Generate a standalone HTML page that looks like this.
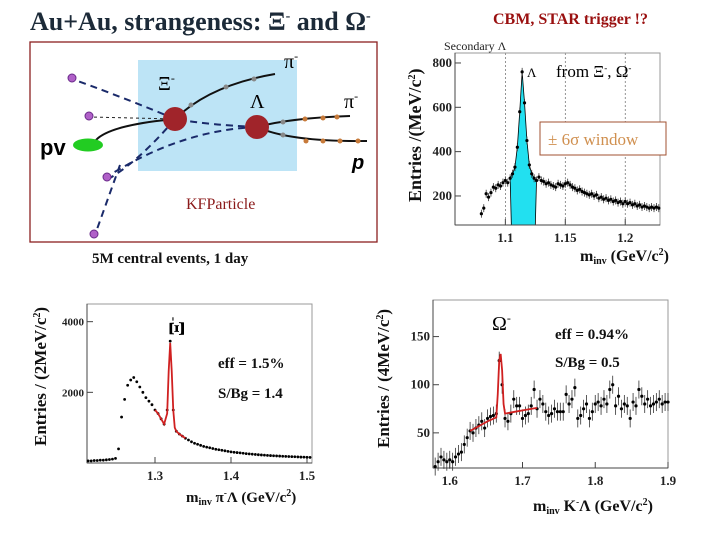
<!DOCTYPE html>
<html><head><meta charset="utf-8">
<style>
body{margin:0;width:720px;height:540px;background:#fff;overflow:hidden;font-family:"Liberation Serif",serif;}
svg{position:absolute;left:0;top:0}
</style></head>
<body>
<svg width="720" height="540" viewBox="0 0 720 540" font-family="Liberation Serif, serif">
<text x="30" y="30" font-size="26" font-weight="bold" fill="#1c2a38">Au+Au, strangeness:  Ξ<tspan font-size="14" dy="-10">-</tspan><tspan dy="10"> and Ω</tspan><tspan font-size="14" dy="-10">-</tspan></text>
<text x="493" y="24" font-size="16" font-weight="bold" fill="#9a1010">CBM, STAR trigger !?</text>
<text x="92" y="263" font-size="15" font-weight="bold" fill="#111">5M central events, 1 day</text>

<g>
<rect x="30" y="42" width="347" height="200" fill="none" stroke="#8b2020" stroke-width="1.3"/>
<rect x="138" y="60" width="159" height="111" fill="#bde4f6"/>
<g stroke="#1a2a6a" stroke-width="2" stroke-dasharray="7,5" fill="none">
<path d="M175 119 Q130 100 75 80"/><path d="M175 119 Q140 160 110 178"/><path d="M257 127 Q180 130 105 178"/><path d="M257 127 Q210 125 175 119"/><path d="M120 165 L96 232"/>
</g>
<path d="M175 119 L90 117" stroke="#222" stroke-dasharray="3,3" fill="none"/>
<g stroke="#111" stroke-width="2" fill="none">
<path d="M96 140 Q110 125 175 119"/><path d="M175 119 Q210 85 275 74"/><path d="M257 127 Q290 118 350 116"/><path d="M257 127 Q290 142 367 141"/>
</g>
<g fill="#888"><circle cx="191" cy="105" r="2.5"/><circle cx="226" cy="87" r="2.5"/><circle cx="254" cy="79" r="2.5"/><circle cx="283" cy="122" r="2.5"/><circle cx="283" cy="135" r="2.5"/></g>
<g fill="#c77a3a"><circle cx="305" cy="119" r="2.5"/><circle cx="323" cy="118" r="2.5"/><circle cx="337" cy="117" r="2.5"/><circle cx="306" cy="141" r="2.5"/><circle cx="323" cy="141" r="2.5"/><circle cx="340" cy="141" r="2.5"/><circle cx="358" cy="141" r="2.5"/></g>
<g fill="#b060c8" stroke="#6a2a8a"><circle cx="72" cy="78" r="4"/><circle cx="89" cy="116" r="4"/><circle cx="107" cy="177" r="4"/><circle cx="94" cy="234" r="4"/></g>
<ellipse cx="88" cy="145" rx="15" ry="6.5" fill="#22cc22"/>
<circle cx="175" cy="119" r="12" fill="#a0242a"/>
<circle cx="257" cy="127" r="12" fill="#a0242a"/>
<text x="40" y="155" font-family="Liberation Sans, sans-serif" font-weight="bold" font-size="22" fill="#000">pv</text>
<text x="284" y="68" font-size="20" fill="#000">π<tspan font-size="12" dy="-8">-</tspan></text>
<text x="158" y="90" font-size="20" fill="#000">Ξ<tspan font-size="12" dy="-8">-</tspan></text>
<text x="250" y="108" font-size="20" fill="#000">Λ</text>
<text x="344" y="108" font-size="20" fill="#000">π<tspan font-size="12" dy="-8">-</tspan></text>
<text x="352" y="169" font-family="Liberation Sans, sans-serif" font-style="italic" font-weight="bold" font-size="20" fill="#000">p</text>
<text x="186" y="209" font-size="16" fill="#8b1a1a">KFParticle</text>
</g>
<g id="charts"></g>
</svg>
<script>
// ---- Lambda chart data ----
const lamX=[1.080,1.082,1.084,1.086,1.088,1.090,1.092,1.094,1.096,1.098,1.100,1.102,1.104,1.106,1.108,1.110,1.112,1.114,1.116,1.118,1.120,1.122,1.124,1.126,1.128,1.130,1.132,1.134,1.136,1.138,1.140,1.142,1.144,1.146,1.148,1.150,1.152,1.154,1.156,1.158,1.160,1.162,1.164,1.166,1.168,1.170,1.172,1.174,1.176,1.178,1.180,1.182,1.184,1.186,1.188,1.190,1.192,1.194,1.196,1.198,1.200,1.202,1.204,1.206,1.208,1.210,1.212,1.214,1.216,1.218,1.220,1.222,1.224,1.226,1.228];
const lamY=[120,145,210,195,215,240,235,250,245,260,270,260,280,300,330,420,580,760,620,450,340,300,280,270,285,270,265,255,260,250,245,240,255,250,245,255,260,250,240,235,225,230,220,215,210,205,210,200,205,190,195,185,190,180,185,175,180,170,175,165,175,165,170,160,165,155,160,150,155,150,145,150,145,150,145];
const lamXTicks=[1.1,1.15,1.2];
const lamYTicks=[200,400,600,800];
const lamWindow=[1.105,1.125];
// ---- Xi chart data ----
const xiX=[1.212,1.216,1.220,1.224,1.228,1.232,1.236,1.240,1.244,1.248,1.252,1.256,1.260,1.264,1.268,1.272,1.276,1.280,1.284,1.288,1.292,1.296,1.300,1.304,1.308,1.312,1.316,1.320,1.324,1.328,1.332,1.336,1.340,1.344,1.348,1.352,1.356,1.360,1.364,1.368,1.372,1.376,1.380,1.384,1.388,1.392,1.396,1.400,1.404,1.408,1.412,1.416,1.420,1.424,1.428,1.432,1.436,1.440,1.444,1.448,1.452,1.456,1.460,1.464,1.468,1.472,1.476,1.480,1.484,1.488,1.492,1.496,1.500,1.504];
const xiY=[60,60,70,70,80,80,90,100,110,130,400,1300,1800,2200,2350,2420,2300,2150,2000,1850,1750,1650,1500,1400,1250,1100,1500,3450,1500,900,820,760,700,650,600,560,530,500,470,450,430,410,390,375,360,345,330,315,305,295,285,275,265,258,250,242,235,228,222,215,210,205,200,196,192,188,184,180,176,172,168,165,162,160];
const xiFitX=[1.300,1.304,1.308,1.312,1.316,1.318,1.320,1.322,1.324,1.326,1.328,1.332,1.336,1.340];
const xiFitY=[1500,1400,1250,1100,1400,2600,3400,2600,1500,1000,900,820,760,700];
const xiXTicks=[1.3,1.4,1.5];
const xiYTicks=[2000,4000];
// ---- Omega chart data ----
const omX=[1.580,1.584,1.588,1.592,1.596,1.600,1.604,1.608,1.612,1.616,1.620,1.624,1.628,1.632,1.636,1.640,1.644,1.648,1.652,1.656,1.660,1.664,1.668,1.672,1.676,1.680,1.684,1.688,1.692,1.696,1.700,1.704,1.708,1.712,1.716,1.720,1.724,1.728,1.732,1.736,1.740,1.744,1.748,1.752,1.756,1.760,1.764,1.768,1.772,1.776,1.780,1.784,1.788,1.792,1.796,1.800,1.804,1.808,1.812,1.816,1.820,1.824,1.828,1.832,1.836,1.840,1.844,1.848,1.852,1.856,1.860,1.864,1.868,1.872,1.876,1.880,1.884,1.888,1.892,1.896,1.900];
const omY=[15,20,25,22,20,22,20,25,28,30,38,45,52,50,55,58,62,55,65,67,68,70,125,100,65,62,70,85,78,78,65,68,70,78,95,75,85,80,72,68,70,75,72,72,72,90,80,85,97,65,68,75,80,65,72,80,82,78,85,80,95,100,78,88,75,80,78,65,82,78,95,88,80,85,78,80,82,85,80,82,82];
const omFitX=[1.628,1.640,1.652,1.664,1.666,1.668,1.670,1.672,1.674,1.676,1.690,1.705,1.720];
const omFitY=[52,57,62,66,90,125,132,115,80,70,72,74,76];
const omXTicks=[1.6,1.7,1.8,1.9];
const omYTicks=[50,100,150];

const NS='http://www.w3.org/2000/svg';
const root=document.getElementById('charts');
function mk(tag,attrs,parent){const e=document.createElementNS(NS,tag);for(const k in attrs)e.setAttribute(k,attrs[k]);(parent||root).appendChild(e);return e;}
function scale(d0,d1,r0,r1){return v=>r0+(v-d0)/(d1-d0)*(r1-r0);}

function chart(o){
  const g=mk('g',{});
  
  
  const sx=scale(o.xd[0],o.xd[1],o.L,o.R), sy=scale(o.yd[0],o.yd[1],o.B,o.T);
  if(o.win){const r=mk('path',{fill:'#22e0f0',stroke:'#000','stroke-width':0.8},g);
    let d='M'+sx(o.win[0])+' '+o.B;
    o.x.forEach((x,i)=>{if(x>=o.win[0]-0.001&&x<=o.win[1]+0.001)d+=' L'+sx(x)+' '+sy(o.y[i]);});
    d+=' L'+sx(o.win[1])+' '+o.B+'Z';r.setAttribute('d',d);
    
    }
  (o.grid||[]).forEach(t=>{mk('line',{x1:sx(t),x2:sx(t),y1:o.T,y2:o.B,stroke:'#666','stroke-dasharray':'2,2','stroke-width':0.7},g);});
  const fr=mk('rect',{x:o.L,y:o.T,width:o.R-o.L,height:o.B-o.T,fill:'none',stroke:'#999','stroke-width':1},g);
  
  
  mk('line',{x1:o.L,x2:o.L,y1:o.T,y2:o.B,stroke:'#444'},g);
  mk('line',{x1:o.L,x2:o.R,y1:o.B,y2:o.B,stroke:'#444'},g);
  o.xt.forEach(t=>{mk('line',{x1:sx(t),x2:sx(t),y1:o.B,y2:o.B-6,stroke:'#444'},g);
    const tx=mk('text',{x:sx(t),y:o.B+17,'text-anchor':'middle','font-size':13,'font-weight':'bold',fill:'#222'},g);tx.textContent=t;
    
    });
  o.yt.forEach(t=>{mk('line',{x1:o.L,x2:o.L+6,y1:sy(t),y2:sy(t),stroke:'#444'},g);
    const tx=mk('text',{x:o.L-3,y:sy(t)+4,'text-anchor':'end','font-size':o.yfs||13,'font-weight':'bold',fill:'#222'},g);tx.textContent=t;
    
    });
  o.x.forEach((x,i)=>{if(o.err){mk('line',{x1:sx(x),x2:sx(x),y1:sy(o.y[i])-o.err,y2:sy(o.y[i])+o.err,stroke:'#333','stroke-width':0.8},g);}
    const c=mk('circle',{cx:sx(x),cy:sy(o.y[i]),r:o.pr||1.5,fill:'#000'},g);
    
    });
  if(o.fx){const p=mk('polyline',{points:o.fx.map((x,i)=>sx(x)+','+sy(o.fy[i])).join(' '),fill:'none',stroke:'#d02020','stroke-width':1.8},g);
    
    }
  return g;
}
chart({name:'lambda-mass-chart',L:455,R:660,T:53,B:225,xd:[1.058,1.229],yd:[69,845],x:lamX,y:lamY,xt:lamXTicks,yt:lamYTicks,grid:lamXTicks,win:lamWindow,err:4,pr:1.6});
chart({name:'xi-mass-chart',L:87,R:312,T:304,B:463,xd:[1.2105,1.5066],yd:[0,4500],x:xiX,y:xiY,xt:xiXTicks,yt:xiYTicks,fx:xiFitX,fy:xiFitY,pr:1.4,yfs:11});
chart({name:'omega-mass-chart',L:433,R:668,T:300,B:468,xd:[1.577,1.9],yd:[13.5,188],x:omX,y:omY,xt:omXTicks,yt:omYTicks,fx:omFitX,fy:omFitY,err:9,pr:1.6});

function txt(x,y,s,attrs,name){const t=mk('text',Object.assign({x:x,y:y},attrs));t.innerHTML=s;
  
  return t;}
const B={'font-weight':'bold',fill:'#111'};
txt(444,50,'Secondary Λ',{'font-size':12,fill:'#222'},'lambda-chart-title');
txt(0,0,'Entries /(MeV/c<tspan font-size="10" dy="-6">2</tspan><tspan dy="6">)</tspan>',Object.assign({'font-size':18,transform:'translate(421,202) rotate(-90)'},B),'lambda-y-axis-title');
txt(527,77,'Λ',{'font-size':13,fill:'#000'},'lambda-peak-label');
txt(556,77,'from Ξ<tspan font-size="9" dy="-6">-</tspan><tspan dy="6">, Ω</tspan><tspan font-size="9" dy="-6">-</tspan>',{'font-size':17,fill:'#000'},'lambda-source-label');
const wb=mk('rect',{x:540,y:122,width:126,height:33,fill:'#fff',stroke:'#a05030','stroke-width':1});


txt(548,145,'± 6σ window',{'font-size':17,fill:'#d09050'},'window-label');
txt(580,261,'m<tspan font-size="10" dy="3">inv</tspan><tspan dy="-3"> (GeV/c</tspan><tspan font-size="10" dy="-6">2</tspan><tspan dy="6">)</tspan>',Object.assign({'font-size':16},B),'lambda-x-axis-title');

txt(0,0,'Entries / (2MeV/c<tspan font-size="10" dy="-6">2</tspan><tspan dy="6">)</tspan>',Object.assign({'font-size':17,transform:'translate(46,446) rotate(-90)'},B),'xi-y-axis-title');
txt(0,0,'Ξ<tspan font-size="13" dy="-8">-</tspan>',{'font-size':22,'font-weight':'bold',fill:'#000',transform:'translate(184,336) rotate(-90)'},'xi-peak-label');
txt(218,368,'eff = 1.5%',Object.assign({'font-size':15},B),'xi-efficiency');
txt(218,398,'S/Bg = 1.4',Object.assign({'font-size':15},B),'xi-signal-background');
txt(186,502,'m<tspan font-size="10" dy="3">inv</tspan><tspan dy="-3"> π</tspan><tspan font-size="9" dy="-6">-</tspan><tspan dy="6">Λ (GeV/c</tspan><tspan font-size="10" dy="-6">2</tspan><tspan dy="6">)</tspan>',Object.assign({'font-size':15},B),'xi-x-axis-title');

txt(0,0,'Entries / (4MeV/c<tspan font-size="10" dy="-6">2</tspan><tspan dy="6">)</tspan>',Object.assign({'font-size':17,transform:'translate(389,448) rotate(-90)'},B),'omega-y-axis-title');
txt(492,330,'Ω<tspan font-size="12" dy="-8">-</tspan>',{'font-size':20,fill:'#000'},'omega-peak-label');
txt(555,339,'eff = 0.94%',Object.assign({'font-size':15},B),'omega-efficiency');
txt(555,367,'S/Bg = 0.5',Object.assign({'font-size':15},B),'omega-signal-background');
txt(533,511,'m<tspan font-size="10" dy="3">inv</tspan><tspan dy="-3"> K</tspan><tspan font-size="9" dy="-6">-</tspan><tspan dy="6">Λ (GeV/c</tspan><tspan font-size="10" dy="-6">2</tspan><tspan dy="6">)</tspan>',Object.assign({'font-size':16},B),'omega-x-axis-title');
</script>
</body></html>
